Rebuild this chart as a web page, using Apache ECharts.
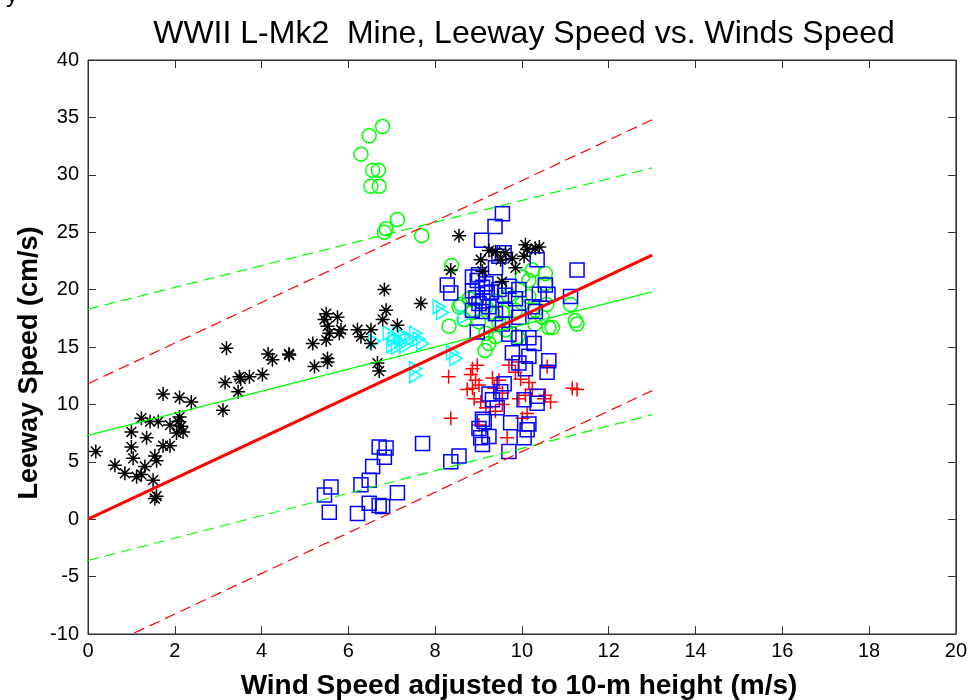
<!DOCTYPE html>
<html>
<head>
<meta charset="utf-8">
<script src="https://cdn.jsdelivr.net/npm/echarts@6/dist/echarts.min.js"></script>
<style>
  html, body { margin: 0; padding: 0; background: #fff; }
  #chart { width: 970px; height: 700px; }
</style>
</head>
<body>
<div id="chart"></div>
<script>
// Leeway observations: [wind speed (m/s), leeway speed (cm/s)]
var asteriskPts = [
  [0.18,5.9],[3.19,14.9],[4.15,14.4],[4.25,13.9],[4.63,14.4],[4.02,12.6],[3.72,12.4],[3.49,12.4],[3.46,11.1],[3.52,12.2],
  [3.16,11.9],[3.11,9.5],[1.73,10.9],[2.11,10.6],[2.38,10.2],[1.23,8.8],[1.43,8.5],[1.62,8.5],[1.89,8.2],[2.08,8.5],
  [2.15,8.1],[2.19,7.6],[2.04,7.5],[2.11,8.9],[1.0,7.6],[1.35,7.1],[1.0,6.3],[1.73,6.4],[1.89,6.4],[1.54,5.5],
  [1.58,5.1],[1.04,5.3],[0.62,4.7],[0.85,4.0],[1.12,3.7],[1.23,3.9],[1.31,4.6],[1.5,3.4],[1.54,1.8],[1.58,2.0],
  [8.55,24.7],[8.36,21.7],[6.83,20.0],[7.67,18.8],[6.87,18.2],[6.79,17.4],[5.49,17.9],[5.45,17.4],[5.75,17.6],[5.52,16.8],
  [5.83,16.5],[5.79,16.2],[5.56,16.2],[5.49,15.6],[6.21,16.5],[6.29,15.9],[6.52,16.5],[7.13,16.9],[5.18,15.3],[4.64,14.3],
  [5.52,14.0],[5.52,13.7],[5.22,13.3],[6.67,13.6],[6.71,12.9],[6.52,15.3],
  [9.24,23.4],[9.39,23.3],[9.62,23.2],[9.78,22.7],[9.05,22.6],[9.51,22.6],[10.08,23.9],[10.12,23.5],[10.31,23.6],[10.05,22.9],
  [9.85,21.9],[9.09,21.6],[9.54,20.7],[10.4,23.7]
];
var circlePts = [
  [6.79,34.2],[6.48,33.4],[6.29,31.8],[6.56,30.4],[6.69,30.4],[6.52,29.0],[6.71,29.0],[7.13,26.1],[6.87,25.3],[6.83,25.0],
  [7.69,24.7],[8.38,22.1],[8.59,18.7],[8.32,16.8],[8.67,17.4],[8.86,18.0],[10.54,21.4],[10.54,20.5],[10.24,21.7],[11.23,17.3],
  [10.7,16.7],[8.55,18.5],[9.24,15.3],[9.39,15.9],[9.62,16.5],[9.47,17.1],[9.17,16.2],[9.85,18.2],[10.01,18.8],[10.16,19.4],
  [10.31,18.2],[10.47,17.6],[10.62,16.7],[10.01,21.1],[10.16,20.8],[9.17,18.5],[9.32,18.0],[9.55,18.0],[8.78,19.2],[11.12,18.7],
  [11.27,17.0],[10.57,18.7],[9.9,15.9],[9.15,14.7],[9.7,19.5],[10.3,17.0],[9.0,17.2],[9.4,19.0]
];
var squarePts = [
  [9.55,26.6],[9.38,25.5],[9.07,24.3],[9.47,22.9],[9.59,23.2],[9.39,21.9],[10.35,22.6],[11.27,21.7],[10.54,20.4],[11.12,19.4],
  [8.28,20.4],[8.36,19.7],[8.86,21.1],[8.97,20.8],[9.09,20.2],[8.86,19.9],[8.94,19.3],[9.17,20.5],[9.01,18.8],[8.86,18.2],
  [9.09,18.1],[9.24,18.5],[9.47,20.0],[9.70,20.3],[9.93,20.0],[9.85,19.2],[9.62,18.2],[9.39,17.9],[9.55,17.0],[9.93,17.6],
  [10.24,18.5],[10.31,18.1],[8.97,16.3],[9.70,16.1],[9.93,15.8],[10.16,15.8],[10.28,15.3],[9.78,14.5],[9.93,13.6],[10.16,14.2],
  [10.08,13.1],[10.62,13.8],[10.58,12.8],[9.59,11.8],[9.51,11.1],[9.24,10.9],[9.32,10.4],[9.43,9.7],[10.05,10.4],[10.35,10.7],
  [10.35,10.1],[9.09,8.7],[9.74,8.4],[10.16,8.3],[9.13,8.5],[9.01,7.9],[9.05,7.1],[9.24,7.2],[9.09,6.5],[10.12,7.8],
  [10.05,7.1],[9.70,5.9],[8.55,5.5],[8.36,5.0],[7.71,6.6],[6.71,6.3],[6.87,6.2],[6.83,5.4],[6.56,4.6],[6.48,3.4],
  [6.29,3.0],[5.6,2.8],[5.45,2.1],[5.56,0.6],[7.13,2.3],[6.48,1.4],[6.71,1.2],[6.79,1.1],[6.21,0.5],
  [9.0,21.3],[9.2,19.7],[9.1,19.0],[9.3,19.8],[9.6,19.5],[10.4,19.6],[10.6,19.6]
];
var plusPts = [
  [8.31,12.4],[8.36,8.8],[8.86,13.1],[8.97,13.4],[8.82,12.6],[8.93,12.1],[8.74,11.3],[8.86,11.4],[9.01,11.7],[8.90,10.5],
  [9.05,10.2],[9.17,9.7],[9.32,12.3],[9.47,12.1],[9.36,11.4],[9.55,11.0],[9.70,13.4],[9.93,13.7],[9.85,12.8],[9.97,12.2],
  [10.16,11.9],[10.08,10.8],[10.24,11.3],[9.93,10.5],[10.12,9.2],[10.01,8.8],[10.54,10.8],[10.51,10.5],[9.66,7.1],[9.01,8.2],
  [10.58,13.3],[10.66,10.2],[11.16,11.4],[11.27,11.3],[9.55,10.0],[9.39,9.4]
];
var trianglePts = [
  [6.6,15.5],[6.94,16.2],[7.06,15.7],[7.17,16.2],[7.21,15.5],[7.29,15.9],[7.02,15.1],[7.13,15.0],[7.32,15.1],[7.44,15.7],
  [7.55,16.2],[7.63,15.7],[7.71,15.3],[7.55,13.1],[7.55,12.5],[8.09,18.5],[8.17,18.0],[8.4,14.5],[8.48,14.0],[8.67,17.6]
];

// Regression fit through origin with its 95% bounds (red),
// unconstrained linear fit with its bounds (green)
var fitRed      = [[0, 0.0],  [13, 23.0]];
var fitRedHi    = [[0, 11.8], [13, 34.8]];
var fitRedLo    = [[0, -11.8],[13, 11.2]];
var fitGreen    = [[0, 7.3],  [13, 19.8]];
var fitGreenHi  = [[0, 18.3], [13, 30.6]];
var fitGreenLo  = [[0, -3.6], [13, 9.1]];

var xTicks = [0, 20, 2];
var yTicks = [-10, 40, 5];

var chart = echarts.init(document.getElementById('chart'));

var FONT = '"Liberation Sans", Arial, sans-serif';
var symAsterisk = 'path://M0,-10L0,10M-10,0L10,0M-7,-7L7,7M-7,7L7,-7';
var symPlus = 'path://M0,-10L0,10M-10,0L10,0';
var symTriRight = 'path://M-8,-10L9,0L-8,10Z';

function scatter(data, symbol, size, color) {
  return {
    type: 'scatter', data: data, symbol: symbol, symbolSize: size,
    itemStyle: { color: 'rgba(0,0,0,0)', borderColor: color, borderWidth: 1.5, opacity: 1 },
    emphasis: { disabled: true }, z: 3, animation: false
  };
}
function line(data, color, width, dashed) {
  return {
    type: 'line', data: data, showSymbol: false, symbol: 'none',
    lineStyle: { color: color, width: width, type: dashed ? [11, 6] : 'solid' },
    z: 5, animation: false, silent: true
  };
}
function axis(dim, ticks, pos, labels) {
  return {
    type: 'value', min: ticks[0], max: ticks[1], interval: ticks[2], position: pos,
    axisLine: { show: true, onZero: false, lineStyle: { color: '#333', width: 1 } },
    axisTick: { show: true, inside: true, length: 8, lineStyle: { color: '#333' } },
    axisLabel: { show: labels, margin: dim === 'x' ? 7 : 9, fontFamily: FONT, fontSize: 20, color: '#000' },
    splitLine: { show: false }
  };
}

chart.setOption({
  backgroundColor: '#fff',
  animation: false,
  grid: { left: 88, right: 12, top: 60, bottom: 66, show: true, borderColor: '#333', borderWidth: 1, backgroundColor: '#fff' },
  xAxis: [axis('x', xTicks, 'bottom', true), axis('x', xTicks, 'top', false)],
  yAxis: [axis('y', yTicks, 'left', true), axis('y', yTicks, 'right', false)],
  title: {
    text: 'WWII L-Mk2  Mine, Leeway Speed vs. Winds Speed',
    left: 519, top: 13, textAlign: 'center',
    textStyle: { fontFamily: FONT, fontSize: 32, fontWeight: 'normal', color: '#000' }
  },
  graphic: [
    { type: 'text', left: 6, top: -17, style: { text: 'y', font: '24px ' + FONT, fill: '#000' } },
    { type: 'text', x: 519, y: 686, style: { text: 'Wind Speed adjusted to 10-m height (m/s)', font: 'bold 28px ' + FONT, fill: '#000', align: 'center', verticalAlign: 'middle' } },
    { type: 'text', x: 30, y: 363, rotation: Math.PI / 2, style: { text: 'Leeway Speed (cm/s)', font: 'bold 27px ' + FONT, fill: '#000', align: 'center', verticalAlign: 'middle' } }
  ],
  series: [
    scatter(circlePts, 'circle', 14, '#00ff00'),
    scatter(plusPts, symPlus, 14, '#ff0000'),
    scatter(trianglePts, symTriRight, [12, 14], '#00ffff'),
    scatter(squarePts, 'rect', 14, '#0000ff'),
    scatter(asteriskPts, symAsterisk, 14, '#000000'),
    line(fitGreenHi, '#00ff00', 1.2, true),
    line(fitGreenLo, '#00ff00', 1.2, true),
    line(fitGreen, '#00ff00', 1.2, false),
    line(fitRedHi, '#ff0000', 1.2, true),
    line(fitRedLo, '#ff0000', 1.2, true),
    line(fitRed, '#ff0000', 3, false)
  ]
});
</script>
</body>
</html>
